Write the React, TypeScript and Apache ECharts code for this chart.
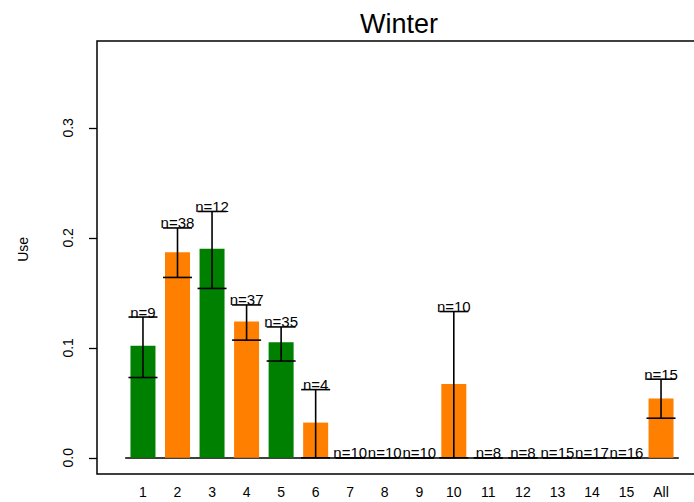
import React, { useEffect, useRef } from "react";
import * as echarts from "echarts";

const categories = ["1", "2", "3", "4", "5", "6", "7", "8", "9", "10", "11", "12", "13", "14", "15", "All"];
const means = [0.102, 0.187, 0.19, 0.124, 0.105, 0.032, 0, 0, 0, 0.067, 0, 0, 0, 0, 0, 0.054];
const lower = [0.073, 0.164, 0.154, 0.107, 0.088, 0, 0, 0, 0, 0, 0, 0, 0, 0, 0, 0.036];
const upper = [0.128, 0.209, 0.224, 0.139, 0.119, 0.062, 0, 0, 0, 0.133, 0, 0, 0, 0, 0, 0.0715];
const counts = [9, 38, 12, 37, 35, 4, 10, 10, 10, 10, 8, 8, 15, 17, 16, 15];
const yTicks = [0, 0.1, 0.2, 0.3];

const GREEN = "#008000";
const ORANGE = "#FF7F00";
const FONT = "'Liberation Sans', Arial, sans-serif";

export default function App() {
  const ref = useRef<HTMLDivElement>(null);
  useEffect(() => {
    if (!ref.current) return;
    const chart = echarts.init(ref.current, null, { renderer: "svg" });
    const barData = means.map((v, i) => ({
      value: v,
      itemStyle: { color: i % 2 === 0 && i < 15 ? GREEN : ORANGE },
    }));
    const errData = categories.map((_, i) => [i, lower[i], upper[i], counts[i]]);
    chart.setOption({
      animation: false,
      backgroundColor: "#fff",
      title: {
        text: "Winter",
        left: 355,
        top: 5,
        textStyle: { fontFamily: FONT, fontSize: 27, fontWeight: "normal", color: "#000" },
      },
      graphic: [
        {
          type: "rect",
          shape: { x: 97, y: 41, width: 600, height: 433 },
          style: { fill: "none", stroke: "#000", lineWidth: 1.5 },
          silent: true,
        },
      ],
      grid: { left: 125.7, top: 41, width: 552.6, height: 416.8 },
      xAxis: {
        type: "category",
        data: categories,
        boundaryGap: true,
        axisLine: { show: true, onZero: true, lineStyle: { color: "#000", width: 1.5 } },
        axisTick: { show: false },
        axisLabel: { margin: 27, fontFamily: FONT, fontSize: 14, color: "#000", interval: 0 },
        splitLine: { show: false },
      },
      yAxis: {
        type: "value",
        min: 0,
        max: 0.379,
        offset: 28.7,
        name: "Use",
        nameLocation: "middle",
        nameRotate: 90,
        nameGap: 67,
        nameTextStyle: { fontFamily: FONT, fontSize: 14, color: "#000" },
        axisLine: { show: false },
        axisTick: { show: true, length: 8, customValues: yTicks, lineStyle: { color: "#000", width: 1.3 } },
        axisLabel: {
          rotate: 90,
          margin: 22,
          customValues: yTicks,
          fontFamily: FONT,
          fontSize: 14,
          color: "#000",
          formatter: (v: number) => v.toFixed(1),
        },
        splitLine: { show: false },
      },
      series: [
        {
          type: "bar",
          data: barData,
          barWidth: 25,
          silent: true,
        },
        {
          type: "custom",
          data: errData,
          silent: true,
          renderItem: (params: any, api: any) => {
            const i = api.value(0);
            const lo = api.value(1);
            const hi = api.value(2);
            const n = api.value(3);
            const pLo = api.coord([i, lo]);
            const pHi = api.coord([i, hi]);
            const hw = 14.5;
            const st = { stroke: "#000", lineWidth: 1.6 };
            return {
              type: "group",
              children: [
                { type: "line", shape: { x1: pLo[0], y1: pLo[1], x2: pHi[0], y2: pHi[1] }, style: st },
                { type: "line", shape: { x1: pLo[0] - hw, y1: pLo[1], x2: pLo[0] + hw, y2: pLo[1] }, style: st },
                { type: "line", shape: { x1: pHi[0] - hw, y1: pHi[1], x2: pHi[0] + hw, y2: pHi[1] }, style: st },
                {
                  type: "text",
                  x: pHi[0],
                  y: pHi[1] + 2.5,
                  style: {
                    text: "n=" + n,
                    textAlign: "center",
                    textVerticalAlign: "bottom",
                    fontFamily: FONT,
                    fontSize: 15,
                    fill: "#000",
                  },
                },
              ],
            };
          },
          z: 5,
        },
      ],
    });
    return () => chart.dispose();
  }, []);
  return (
    <div
      ref={ref}
      style={{ position: "fixed", left: 0, top: 0, width: 694, height: 502, background: "#fff" }}
    />
  );
}
